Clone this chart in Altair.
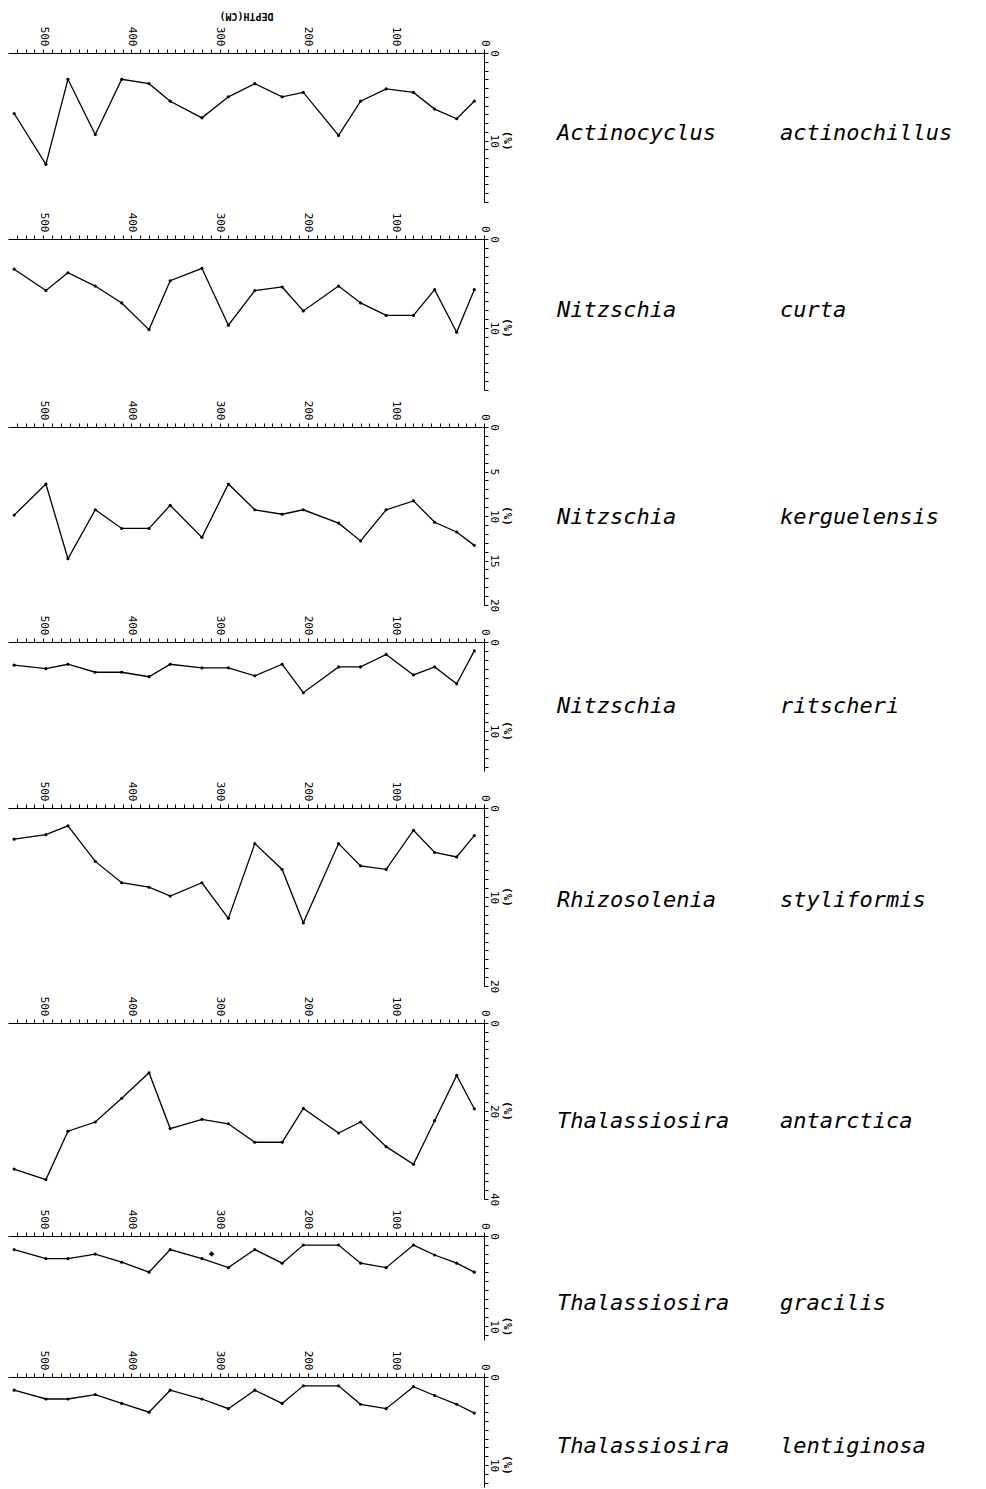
import altair as alt
import pandas as pd

# Sample depths (cm), shared by every panel
depths = [533, 497, 472, 441, 411, 380, 356, 320, 290, 260, 229, 205, 165, 140, 111, 80, 56, 31, 11]

genus = ["Actinocyclus", "Nitzschia", "Nitzschia", "Nitzschia",
         "Rhizosolenia", "Thalassiosira", "Thalassiosira", "Thalassiosira"]
species = ["actinochillus", "curta", "kerguelensis", "ritscheri",
           "styliformis", "antarctica", "gracilis", "lentiginosa"]

actinochillus = [6.9, 12.7, 3.0, 9.3, 3.0, 3.5, 5.5, 7.4, 5.0, 3.5, 5.0, 4.5, 9.4, 5.5, 4.1, 4.5, 6.4, 7.5, 5.5]
curta = [3.4, 5.8, 3.8, 5.3, 7.2, 10.2, 4.7, 3.3, 9.7, 5.8, 5.4, 8.1, 5.3, 7.2, 8.6, 8.6, 5.7, 10.5, 5.7]
kerguelensis = [9.9, 6.4, 14.8, 9.3, 11.4, 11.4, 8.8, 12.4, 6.4, 9.3, 9.8, 9.3, 10.8, 12.8, 9.3, 8.3, 10.7, 11.8, 13.3]
ritscheri = [2.6, 3.0, 2.5, 3.4, 3.4, 3.9, 2.5, 2.9, 2.9, 3.8, 2.5, 5.7, 2.8, 2.8, 1.4, 3.7, 2.8, 4.7, 1.0]
styliformis = [3.5, 3.0, 2.0, 6.0, 8.4, 8.9, 9.9, 8.4, 12.4, 4.0, 6.9, 12.9, 4.0, 6.5, 6.9, 2.5, 5.0, 5.5, 3.1]
antarctica = [33.2, 35.6, 24.6, 22.5, 17.1, 11.3, 24.0, 21.9, 22.9, 27.1, 27.1, 19.4, 25.0, 22.5, 28.1, 32.1, 22.2, 11.9, 19.5]
gracilis = [1.5, 2.5, 2.5, 2.0, 2.9, 4.0, 1.5, 2.5, 3.5, 1.5, 3.0, 1.0, 1.0, 3.0, 3.5, 1.0, 2.1, 3.0, 4.0]
lentiginosa = [1.5, 2.5, 2.5, 2.0, 3.0, 4.0, 1.5, 2.5, 3.6, 1.5, 3.0, 1.0, 1.0, 3.1, 3.6, 1.1, 2.1, 3.1, 4.1]

# isolated stray point in the gracilis panel
gracilis_extra_depth = [309]
gracilis_extra_value = [2.0]

series = [actinochillus, curta, kerguelensis, ritscheri, styliformis, antarctica, gracilis, lentiginosa]

# per-panel y axis: max, tick step, labelled values
y_max = [17, 17, 20, 14.5, 20, 40, 11.5, 12.5]
y_step = [1, 1, 0.5, 1, 1, 2, 1, 1]
y_labels = [[0, 10], [0, 10], [0, 5, 10, 15, 20], [0, 10], [0, 10, 20], [0, 20, 40], [0, 10], [0, 10]]
pct_at = [10, 10, 10, 10, 10, 20, 10, 10]
heights = [149, 151, 178, 129, 178, 176, 104, 110]
name_dy = [80, 71, 90, 64, 92, 98, 67, 69]

depth_ticks = list(range(0, 531, 10))

W = 476
FONT = "DejaVu Sans Mono"

panels = []
for i in range(8):
    df = pd.DataFrame({"depth": depths, "value": series[i]})
    n = int(round(y_max[i] / y_step[i]))
    ticks = [round(k * y_step[i], 2) for k in range(n + 1) if k * y_step[i] <= y_max[i] + 1e-9]
    lab = ",".join(str(v) for v in y_labels[i])
    xaxis_kw = dict(
        orient="top", values=depth_ticks, tickCount=len(depth_ticks) + 5, format="d",
        labelExpr="datum.value % 100 === 0 ? datum.label : ''",
        labelAngle=90, labelAlign="right", labelBaseline="middle",
        labelFont=FONT, labelFontSize=11, labelColor="black", labelPadding=3,
        labelFlush=False, labelOverlap=False,
        tickSize=4, tickColor="black", domainColor="black", grid=False,
    )
    if i == 0:
        xaxis = alt.Axis(title="DEPTH(CM)", titleAngle=180, titleBaseline="top", titleFont=FONT,
                         titleFontSize=10, titleFontWeight="bold", titlePadding=6, titleColor="black",
                         **xaxis_kw)
    else:
        xaxis = alt.Axis(title=None, **xaxis_kw)
    yaxis = alt.Axis(
        orient="right", values=ticks, tickCount=len(ticks) + 5, format="d",
        labelExpr="indexof([" + lab + "], datum.value) >= 0 ? datum.label : ''",
        labelAngle=90, labelAlign="center", labelBaseline="bottom",
        labelFont=FONT, labelFontSize=11, labelColor="black", labelPadding=0,
        labelFlush=False, labelOverlap=False,
        tickSize=4, tickColor="black", domainColor="black", grid=False, title=None,
    )
    xenc = alt.X("depth:Q", scale=alt.Scale(domain=[0, 540], reverse=True, nice=False, zero=False), axis=xaxis)
    yenc = alt.Y("value:Q", scale=alt.Scale(domain=[0, y_max[i]], reverse=True, nice=False, zero=False), axis=yaxis)

    base = alt.Chart(df)
    line = base.mark_line(color="black", strokeWidth=1.3).encode(x=xenc, y=yenc)
    pts = base.mark_point(filled=True, color="black", size=10, opacity=1).encode(x="depth:Q", y="value:Q")
    layers = [line, pts]
    if i == 6:
        ex = pd.DataFrame({"depth": gracilis_extra_depth, "value": gracilis_extra_value})
        layers.append(alt.Chart(ex).mark_point(filled=True, shape="diamond", color="black", size=30, opacity=1)
                      .encode(x="depth:Q", y="value:Q"))
    pct = alt.Chart(pd.DataFrame({"t": ["(%)"], "v": [pct_at[i]]})).mark_text(
        angle=90, align="center", baseline="bottom", font=FONT, fontSize=11, fontWeight="bold", color="black"
    ).encode(x=alt.value(W + 18), y="v:Q", text="t:N")
    names = alt.Chart(pd.DataFrame({"g": [genus[i]], "s": [species[i]]}))
    gtext = names.mark_text(align="left", baseline="middle", font=FONT, fontSize=22, fontStyle="italic",
                            color="black").encode(x=alt.value(W + 73), y=alt.value(name_dy[i]), text="g:N")
    stext = names.mark_text(align="left", baseline="middle", font=FONT, fontSize=22, fontStyle="italic",
                            color="black").encode(x=alt.value(W + 296), y=alt.value(name_dy[i]), text="s:N")
    layers += [pct, gtext, stext]
    panels.append(alt.layer(*layers).properties(width=W, height=heights[i]))

chart = alt.vconcat(*panels, spacing=37, bounds="flush").properties(
    padding={"left": 0, "top": 2, "right": 5, "bottom": 5},
    background="white",
).configure_view(strokeWidth=0, stroke=None)

chart.save("out.html", embed_options={"renderer": "svg", "actions": False})
